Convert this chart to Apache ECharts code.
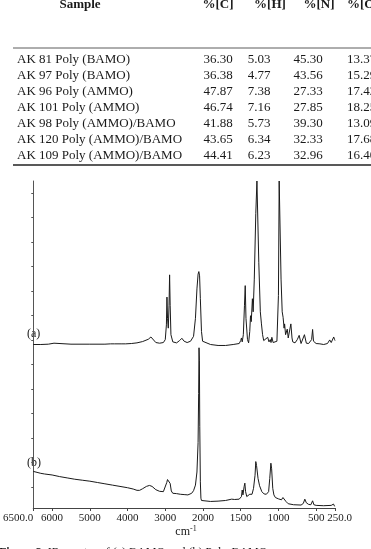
<!DOCTYPE html>
<html><head><meta charset="utf-8">
<script src="https://cdn.jsdelivr.net/npm/echarts@6/dist/echarts.min.js"></script>
<style>html,body{margin:0;padding:0;background:#fff;overflow:hidden}#c{width:371px;height:549px}</style>
</head><body><div id="c"></div>
<script>
// ---------- table data ----------
const tableHeaders = ['Sample', '%[C]', '%[H]', '%[N]', '%[O]'];
const sampleNames = ['AK 81 Poly (BAMO)', 'AK 97 Poly (BAMO)', 'AK 96 Poly (AMMO)', 'AK 101 Poly (AMMO)',
  'AK 98 Poly (AMMO)/BAMO', 'AK 120 Poly (AMMO)/BAMO', 'AK 109 Poly (AMMO)/BAMO'];
const pctC = ['36.30', '36.38', '47.87', '46.74', '41.88', '43.65', '44.41'];
const pctH = ['5.03', '4.77', '7.38', '7.16', '5.73', '6.34', '6.23'];
const pctN = ['45.30', '43.56', '27.33', '27.85', '39.30', '32.33', '32.96'];
const pctO = ['13.37', '15.29', '17.42', '18.25', '13.09', '17.68', '16.40'];

// ---------- spectrum data (wavenumber, intensity) ----------
const xTickWavenumbers = [6500, 6000, 5000, 4000, 3000, 2000, 1500, 1000, 500, 250];
const spectrumLabels = ['(a)', '(b)'];
const axisUnit = 'cm';
const axisUnitSup = '-1';
const captionBold = 'Figure 2';
const captionRest = '  IR spectra of (a) BAMO and (b) Poly-BAMO';

// (a) intensity above its own baseline
const spectrumA = [
 [6500,0],[6300,0],[6100,0.1],[5950,0.4],[5900,0.1],[5500,0.1],[5000,0.1],[4600,0.1],[4450,0.2],[4400,0.5],
 [4350,0.2],[4150,0.2],[4100,0.6],[4050,0.2],[3900,0.3],[3750,0.5],[3600,0.9],[3450,1.6],[3380,2.3],[3330,1.8],
 [3250,0.6],[3150,0.4],[3050,0.6],[3000,1.5],[2970,6],[2955,14.5],[2940,8],[2920,5],[2900,12],[2885,21.3],
 [2870,12],[2850,3],[2800,0.8],[2700,0.5],[2620,1.2],[2560,1.9],[2500,1.0],[2420,0.6],[2330,1.0],[2250,2.5],
 [2200,8],[2160,17],[2130,21.5],[2110,22.3],[2090,21],[2070,14],[2040,4],[2010,1.0],[1980,0.4],[1900,0],
 [1800,-0.3],[1700,-0.3],[1600,0],[1520,0.3],[1500,1.2],[1490,2.0],[1480,0.8],[1465,3],[1450,12],[1440,18],
 [1430,8],[1410,1.5],[1395,0.5],[1380,4],[1370,8.8],[1360,7],[1345,14],[1335,10],[1320,20],[1300,40],
 [1285,50],[1275,50],[1260,25],[1240,10],[1225,6.3],[1210,3],[1195,1.2],[1170,1.5],[1142,2.2],[1125,0.8],
 [1108,1.5],[1098,0.6],[1087,2.2],[1070,0.6],[1045,0.2],[1020,1],[1000,15],[990,50],[975,50],[965,20],
 [950,10],[938,8.3],[925,5],[918,6.3],[905,3],[890,3.5],[883,4.7],[870,2],[850,1.5],[835,6.3],
 [820,2],[810,0.8],[780,0.5],[750,1.5],[725,2.8],[700,0.3],[655,3.0],[630,0.4],[600,0.3],[560,1.5],
 [547,4.6],[535,1.0],[500,0.3],[450,0.2],[400,0],[350,0.3],[320,1.4],[300,0.6],[280,1.2],[267,2.3],
 [255,1.5],[250,1.2]
];
// (b) intensity
const spectrumB = [
 [6500,11.2],[6400,10.9],[6300,10.6],[6200,10.4],[6000,10.1],[5800,9.6],[5600,9.2],[5400,8.8],[5200,8.5],[5000,8.2],
 [4800,7.8],[4600,7.4],[4400,7.0],[4200,6.6],[4000,6.2],[3850,5.8],[3750,5.4],[3680,5.4],[3600,5.9],[3500,6.6],
 [3420,6.9],[3350,6.6],[3250,5.6],[3150,5.1],[3050,5.0],[3000,5.5],[2960,7.8],[2940,8.7],[2920,8.3],[2900,8.7],
 [2870,7.5],[2840,5.2],[2800,4.5],[2700,4.4],[2600,4.2],[2550,4.6],[2500,4.1],[2400,4.0],[2300,4.5],[2250,5.3],
 [2200,7],[2160,11],[2130,20],[2115,35],[2105,49],[2095,45],[2085,25],[2070,8],[2055,3],[2040,2.3],
 [2000,2.0],[1900,2.0],[1800,2.1],[1700,2.3],[1620,2.7],[1580,2.6],[1520,2.7],[1490,3.5],[1480,5.5],[1470,4],
 [1455,6.5],[1445,7.6],[1435,5],[1420,3.5],[1400,3.2],[1380,4.2],[1365,4.8],[1350,4.2],[1330,6],[1310,10],
 [1300,14.2],[1290,13],[1270,9],[1250,6.8],[1220,5],[1190,4.3],[1160,4.2],[1130,5],[1115,9],[1100,13.7],
 [1090,12],[1075,6],[1060,4],[1040,3.2],[1000,2.8],[960,2.5],[940,3.2],[920,2.6],[900,2.0],[870,1.3],
 [800,1.0],[700,0.9],[670,1.4],[650,2.7],[630,1.6],[600,1.1],[570,1.0],[547,2.2],[530,1.0],[500,0.8],
 [400,0.7],[300,0.8],[285,1.3],[270,1.2],[255,0.5],[250,0.6]
];

// ---------- layout ----------
const OFFSET_A = 50;           // vertical stacking offset of spectrum (a)
const serif = '"Liberation Serif", "DejaVu Serif", serif';

// piecewise-linear wavenumber axis (scale doubles below 2000)
function toU(w) { return w >= 2000 ? (6500 - w) / 1000 : 4.5 + (2000 - w) / 500; }
function fromU(u) { return u <= 4.5 ? 6500 - u * 1000 : 2000 - (u - 4.5) * 500; }
function fmtW(v) { const w = Math.round(fromU(v)); return (w === 6500 || w === 250) ? w.toFixed(1) : String(w); }

const seriesA = spectrumA.map(p => [toU(p[0]), p[1] + OFFSET_A]);
const seriesB = spectrumB.map(p => [toU(p[0]), p[1]]);
const xTickU = xTickWavenumbers.map(toU);
const xLabelMain = xTickU.slice(0, -1);      // all but the last
const xLabelEnd = xTickU.slice(-1);          // the end label, on its own axis to avoid overlap hiding
const yTicks = [];
for (let k = 0; k < 13; k++) yTicks.push(6.4 + 7.5 * k);

// table graphics
const rowY = [60, 76, 92, 108, 124, 140, 156];
const g = [];
function txt(x, y, text, opts) {
  g.push({ type: 'text', silent: true, style: Object.assign({
    x: x, y: y, text: text, font: '13px ' + serif, fill: '#1a1a1a',
    textAlign: 'left', textVerticalAlign: 'middle' }, opts || {}) });
}
const headerFont = 'bold 13px ' + serif;
txt(80, 5, tableHeaders[0], { font: headerFont, textAlign: 'center' });
txt(218, 5, tableHeaders[1], { font: headerFont, textAlign: 'center' });
txt(270, 5, tableHeaders[2], { font: headerFont, textAlign: 'center' });
txt(319, 5, tableHeaders[3], { font: headerFont, textAlign: 'center' });
txt(347, 5, tableHeaders[4], { font: headerFont });
g.push({ type: 'line', silent: true, shape: { x1: 13, y1: 48, x2: 371, y2: 48 }, style: { stroke: '#333', lineWidth: 0.8 } });
sampleNames.forEach((n, i) => {
  txt(17, rowY[i], n);
  txt(218, rowY[i], pctC[i], { textAlign: 'center' });
  txt(259, rowY[i], pctH[i], { textAlign: 'center' });
  txt(308, rowY[i], pctN[i], { textAlign: 'center' });
  txt(347, rowY[i], pctO[i]);
});
g.push({ type: 'line', silent: true, shape: { x1: 13, y1: 165, x2: 371, y2: 165 }, style: { stroke: '#222', lineWidth: 1.4 } });

// spectrum labels, unit, caption
txt(27, 334, spectrumLabels[0], { font: '12px ' + serif });
txt(27, 463, spectrumLabels[1], { font: '12px ' + serif });
g.push({ type: 'text', silent: true, style: {
  x: 186, y: 532, text: axisUnit + '{s|' + axisUnitSup + '}', font: '12px ' + serif, fill: '#1a1a1a',
  textAlign: 'center', textVerticalAlign: 'middle',
  rich: { s: { fontSize: 8, fontFamily: serif, verticalAlign: 'top', padding: [0, 0, 6, 0] } } } });
g.push({ type: 'text', silent: true, style: {
  x: -1, y: 553, text: '{b|' + captionBold + '}' + captionRest, font: '12px ' + serif, fill: '#1a1a1a',
  textAlign: 'left', textVerticalAlign: 'middle',
  rich: { b: { fontWeight: 'bold', fontSize: 12, fontFamily: serif } } } });

const labelBase = { margin: 5, color: '#1a1a1a', fontFamily: serif, fontSize: 11 };

const chart = echarts.init(document.getElementById('c'), null, { renderer: 'canvas' });
chart.setOption({
  animation: false,
  backgroundColor: '#fff',
  grid: { left: 22, top: 181, width: 313, height: 327, containLabel: false },
  xAxis: [{
    type: 'value', min: 0, max: 8, position: 'bottom',
    axisLine: { lineStyle: { color: '#444', width: 1 } },
    axisTick: { customValues: xTickU, length: 3, lineStyle: { color: '#444' } },
    axisLabel: Object.assign({ customValues: xLabelMain, alignMinLabel: 'right', showMinLabel: true, showMaxLabel: true,
      formatter: fmtW }, labelBase),
    splitLine: { show: false }
  }, {
    type: 'value', min: 0, max: 8, position: 'bottom', offset: 0,
    axisLine: { show: false }, axisTick: { show: false },
    axisLabel: Object.assign({ customValues: xLabelEnd, showMaxLabel: true, alignMaxLabel: 'center',
      formatter: v => '{e|' + fmtW(v) + '}',
      rich: { e: { fontFamily: serif, fontSize: 11, color: '#1a1a1a', padding: [0, 0, 0, 9] } } }, labelBase),
    splitLine: { show: false }
  }],
  yAxis: {
    type: 'value', min: 0, max: 100,
    axisLine: { show: true, lineStyle: { color: '#555', width: 1 } },
    axisTick: { show: true, customValues: yTicks, length: 2, lineStyle: { color: '#555' } },
    axisLabel: { show: false },
    splitLine: { show: false }
  },
  series: [
    { type: 'line', data: seriesA, showSymbol: false, lineStyle: { color: '#1a1a1a', width: 1 }, clip: true },
    { type: 'line', data: seriesB, showSymbol: false, lineStyle: { color: '#1a1a1a', width: 1 }, clip: true }
  ],
  graphic: g
});
</script></body></html>
